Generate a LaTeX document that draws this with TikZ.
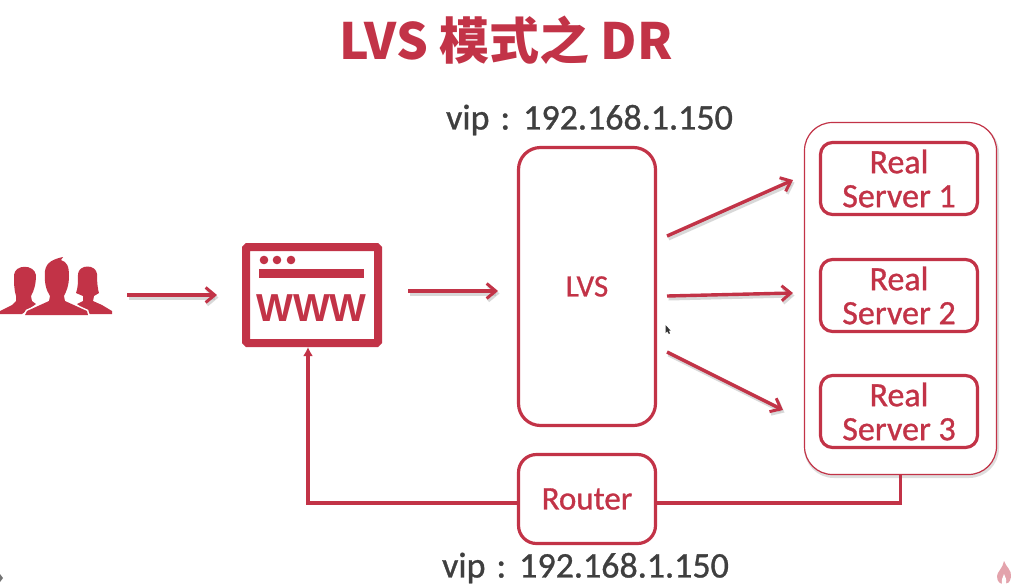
\documentclass[tikz,border=0pt]{standalone}
\usepackage{fontspec}
\setmainfont{Carlito}[RawFeature={embolden=0.9}]
\newfontfamily\cjk{Noto Sans CJK SC}
\newfontfamily\wwwfont{Liberation Sans}
\usetikzlibrary{arrows.meta}
\definecolor{lvsred}{HTML}{C23347}
\definecolor{vipgray}{HTML}{3F3F3F}
\newcommand{\fs}[1]{\fontsize{#1}{#1}\selectfont}
\begin{document}
\begin{tikzpicture}[x=1pt,y=-1pt]
\tikzstyle{box}=[draw=lvsred,line width=3.2pt,rounded corners=22pt,inner sep=0pt,text=lvsred,align=center]
\tikzstyle{rs}=[box,rounded corners=12pt,minimum width=157pt,minimum height=72pt,font=\fs{34}]
\tikzstyle{vip}=[text=vipgray,inner sep=0pt,font=\fs{36}]
\tikzstyle{flow}=[draw=lvsred,line width=3.4pt,-{Straight Barb[length=9pt,width=15pt,line width=3pt]}]
\tikzstyle{flowshade}=[flow,draw=black!28,opacity=0.55,line width=4pt]
\tikzstyle{back}=[draw=lvsred,line width=3.2pt]
\useasboundingbox (0,0) rectangle (1016,584);

\node[text=lvsred,inner sep=0pt] at (506,40) (title) {\fs{50}\cjk\bfseries LVS 模式之 DR};
\node[vip] at (589.5,120) (vip1) {vip\hspace{11pt}:\hspace{13pt}192.168.1.150};
\node[vip] at (585.5,568) (vip2) {vip\hspace{11pt}:\hspace{13pt}192.168.1.150};

\node[box,minimum width=137pt,minimum height=278pt,font=\fs{31}] at (587,286.5) (lvs) {LVS};
\node[box,minimum width=137pt,minimum height=89pt,rounded corners=18pt,font=\fs{33}] at (587,499) (router) {Router};

\begin{scope}[transform canvas={shift={(1pt,-2pt)}}]
\draw[black!13,line width=4pt,rounded corners=28pt] (805,123) rectangle (996,474);
\end{scope}
\node[draw=lvsred,line width=1.2pt,rounded corners=28pt,fill=white,minimum width=192pt,minimum height=352pt,inner sep=0pt] at (900.5,298.5) (group) {};
\node[rs] at (899,178.5) (rs1) {Real\\Server 1};
\node[rs] at (899,295.5) (rs2) {Real\\Server 2};
\node[rs] at (899,411.5) (rs3) {Real\\Server 3};

\coordinate (u1) at (127,295);
\coordinate (u2) at (217,295);
\coordinate (w1) at (408,291);
\coordinate (w2) at (498,291);
\coordinate (a1) at (667,236);
\coordinate (a2) at (793,180);
\coordinate (b1) at (667,296);
\coordinate (b2) at (793,293);
\coordinate (c1) at (667,352);
\coordinate (c2) at (783,410);
\coordinate (rb) at (308,503);

\begin{scope}[transform canvas={shift={(1.5pt,-2.5pt)}}]
\foreach \s/\t in {u1/u2,w1/w2,a1/a2,b1/b2,c1/c2}
  \draw[flowshade] (\s) -- (\t);
\end{scope}
\foreach \s/\t in {u1/u2,w1/w2,a1/a2,b1/b2,c1/c2}
  \draw[flow] (\s) -- (\t);

\node[draw=lvsred,line width=8pt,rounded corners=1.5pt,minimum width=132pt,minimum height=96pt,inner sep=0pt] at (312,295) (www) {};
\fill[lvsred] (264,260) circle (4.3pt);
\fill[lvsred] (277,260) circle (4.3pt);
\fill[lvsred] (291,260) circle (4.3pt);
\fill[lvsred] (259,269) rectangle (364,278);
\node[text=lvsred,inner sep=0pt] at (311.5,308) (wwwtext) {\fs{39}\wwwfont\bfseries WWW};

\draw[back,-{Latex[length=9pt,width=10pt]}] (router.west |- rb) -- (rb) -- (www.south -| rb);
\draw[back] (router.east |- rb) -- (group.south |- rb) -- (group.south);

\fill[lvsred] (14,275) .. controls (15,264) and (34,264) .. (36,275)
  .. controls (36,284) and (34,291) .. (31,296) -- (32,301) -- (36,304) -- (22,314)
  -- (0,314) -- (0,311) -- (12,305) -- (16,301) -- (16,296) .. controls (14,290) and (14,282) .. (14,275) -- cycle;
\fill[lvsred] (78,274) .. controls (79,264) and (96,264) .. (97,274)
  .. controls (97,284) and (98,290) .. (99,293) -- (94,296) -- (93,301) -- (102,305) -- (112,311) -- (112,314)
  -- (90,314) -- (77,304) -- (83,301) -- (83,296) -- (76,293) .. controls (78,288) and (78,282) .. (78,274) -- cycle;
\fill[lvsred,preaction={draw=white,line width=3pt}] (45,271) .. controls (46,262) and (54,259) .. (63,257) -- (61,260)
  .. controls (67,262) and (69,266) .. (69,276) .. controls (69,286) and (66,292) .. (64,296) -- (65,301) -- (87,311) -- (88,315)
  -- (25,315) -- (27,311) -- (49,301) -- (50,296) .. controls (46,290) and (44,282) .. (45,271) -- cycle;

\fill[black!80] (665.5,325) -- (665.5,333) -- (667.3,331.3) -- (668.8,334) -- (670,333.3) -- (668.8,330.8) -- (670.5,330.5) -- cycle;
\fill[lvsred!45] (1004,561) .. controls (1006,567) and (1012,570) .. (1011,577) .. controls (1010,583) and (1007,584) .. (1004,584)
  .. controls (1000,584) and (997,582) .. (997,576) .. controls (997,572) and (1003,568) .. (1004,561) -- cycle;
\fill[white] (1004,574) .. controls (1005,577) and (1007,579) .. (1006,584) -- (1002,584) .. controls (1001,580) and (1003,577) .. (1004,574) -- cycle;
\fill[black!55] (0,574) -- (3,578) -- (0,582) -- cycle;
\end{tikzpicture}
\end{document}
